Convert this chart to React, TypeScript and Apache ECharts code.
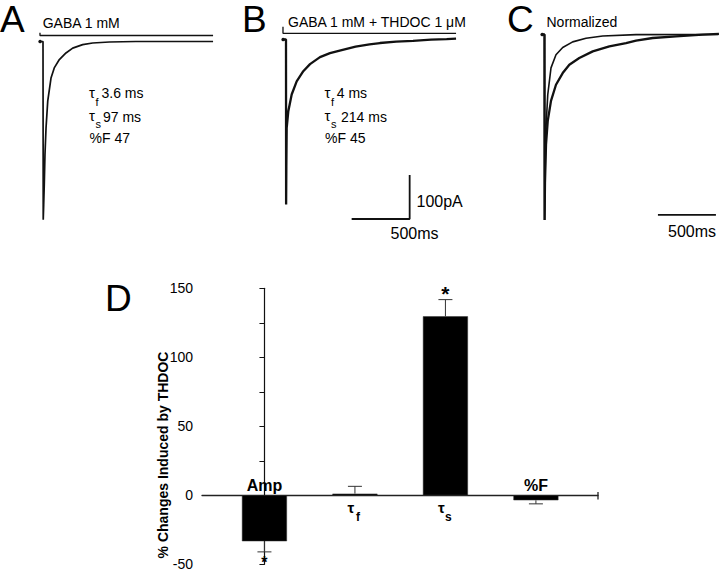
import React, { useEffect, useRef } from 'react';
import * as echarts from 'echarts';

// ---------- Panel A : GABA 1 mM (time in ms, current in pA) ----------
const TRACE_A_T = [-25, 0, 2, 6, 11, 17, 26, 41, 69, 97, 141, 198, 256, 342, 428, 572, 800, 1466];
const TRACE_A_I = [0, 0, -405, -371, -325, -257, -197, -135, -83, -60, -41, -26, -15, -7, -3.4, -1.1, 0, 0];
const APP_A_T = [-26, -26, 1466];
const APP_A_I = [20, 13.6, 13.6];

// ---------- Panel B : GABA 1 mM + THDOC 1 µM ----------
const TRACE_B_T = [-25, 0, 1, 3, 6, 20, 49, 92, 149, 207, 293, 379, 480, 600, 720, 810, 950, 1095, 1250, 1385, 1466];
const TRACE_B_I = [0, 0, -375, -290, -201, -163, -125, -95, -72, -56, -40, -31, -24, -16, -11, -8, -5, -3, -0.5, 0.8, 1.8];
const APP_B_T = [-26, -26, 1466];
const APP_B_I = [29, 14.1, 14.1];
const SCALE_MS = 500;
const SCALE_PA = 100;
const SCALE_B_START = [566, -408];

// ---------- Panel C : normalized ----------
const TRACE_C_FAST_T = [-20, 0, 1, 3, 7, 13, 28, 56, 99, 157, 243, 358, 502, 789, 1500];
const TRACE_C_FAST = [0, 0, -1, -0.9, -0.68, -0.5, -0.325, -0.18, -0.109, -0.07, -0.04, -0.02, -0.008, -0.001, 0];
const TRACE_C_SLOW_T = [-20, 0, 1, 4, 13, 28, 56, 99, 157, 214, 300, 416, 559, 703, 789, 933, 1134, 1364, 1504];
const TRACE_C_SLOW = [0, 0, -1, -0.8, -0.594, -0.466, -0.358, -0.271, -0.208, -0.163, -0.127, -0.091, -0.064, -0.046, -0.033, -0.019, -0.01, -0.001, 0.003];
const SCALE_C_START = [978, -0.973];

// ---------- Panel D : % changes induced by THDOC ----------
const D_CATEGORIES = ['Amp', 'τ', 'τ', '%F'];
const D_SUBSCRIPTS = ['', 'f', 's', ''];
const D_VALUES = [-33.3, 1.2, 129.7, -3.6];
const D_SEM = [7.7, 5.3, 12.1, 2.6];
const D_SIGNIFICANT = [true, false, true, false];
const D_TICKS = [-50, 150, 50];

const FONT = '"Liberation Sans", Arial, Helvetica, sans-serif';

const zip = (a: number[], b: number[]) =>
  a.map((v, i) =>
    i === 0
      ? { value: [v, b[i]], symbol: 'circle', symbolSize: 3.5, itemStyle: { color: '#111' } }
      : [v, b[i]]
  );
const pairs = (a: number[], b: number[]) => a.map((v, i) => [v, b[i]]);

function traceSeries(name: string, idx: number, data: any[], width: number, dot = false) {
  return {
    name,
    type: 'line',
    xAxisIndex: idx,
    yAxisIndex: idx,
    data,
    symbol: 'none',
    showSymbol: dot,
    silent: true,
    clip: false,
    lineStyle: { color: '#111', width },
  };
}

function txt(text: string, x: number, y: number, size: number, extra: any = {}) {
  return {
    type: 'text',
    x,
    y,
    silent: true,
    style: {
      text,
      fill: '#000',
      fontSize: size,
      fontFamily: FONT,
      align: 'left',
      verticalAlign: 'middle',
      ...extra,
    },
  };
}

export default function App() {
  const ref = useRef<HTMLDivElement>(null);

  useEffect(() => {
    if (!ref.current) return;
    const chart = echarts.init(ref.current, null, { renderer: 'svg' });

    const hiddenX = (min: number, max: number, gridIndex: number) => ({
      type: 'value', gridIndex, min, max, show: false, splitLine: { show: false },
    });
    const hiddenY = (min: number, max: number, gridIndex: number) => ({
      type: 'value', gridIndex, min, max, show: false, splitLine: { show: false },
    });

    const scaleB = [
      SCALE_B_START,
      [SCALE_B_START[0] + SCALE_MS, SCALE_B_START[1]],
      [SCALE_B_START[0] + SCALE_MS, SCALE_B_START[1] + SCALE_PA],
    ];
    const scaleC = [SCALE_C_START, [SCALE_C_START[0] + SCALE_MS, SCALE_C_START[1]]];

    const barData = D_VALUES.map((v, i) => [i, v]);
    const errData = D_VALUES.map((v, i) => [i, v, v + Math.sign(v) * D_SEM[i]]);

    const option: any = {
      animation: false,
      backgroundColor: '#fff',
      grid: [
        { left: 37.2, top: 32.7, width: 179.8, height: 193.6, outerBoundsMode: 'none' },
        { left: 280.2, top: 24.1, width: 179.8, height: 200.2, outerBoundsMode: 'none' },
        { left: 538.7, top: 25.2, width: 182.1, height: 204.05, outerBoundsMode: 'none' },
        { left: 202, top: 288.3, width: 396, height: 276, outerBoundsMode: 'none' },
      ],
      xAxis: [
        hiddenX(-50, 1500, 0),
        hiddenX(-50, 1500, 1),
        hiddenX(-50, 1520, 2),
        {
          type: 'value', gridIndex: 3, min: -0.69, max: 3.686,
          axisLine: { show: true, onZero: true, lineStyle: { color: '#222', width: 1.3 } },
          axisTick: { show: false }, axisLabel: { show: false }, splitLine: { show: false },
        },
      ],
      yAxis: [
        hiddenY(-420, 20, 0),
        hiddenY(-420, 35, 1),
        hiddenY(-1.05, 0.05, 2),
        {
          type: 'value', gridIndex: 3, min: D_TICKS[0], max: D_TICKS[1], interval: D_TICKS[2],
          axisLine: { show: true, lineStyle: { color: '#111', width: 1.2 } },
          axisTick: { show: true, length: 5, lineStyle: { color: '#111', width: 1 } },
          minorTick: { show: true, splitNumber: 2, length: 5, lineStyle: { color: '#111', width: 1 } },
          splitLine: { show: false },
          minorSplitLine: { show: false },
          axisLabel: { color: '#000', fontSize: 14, fontFamily: FONT, margin: 9 },
        },
      ],
      series: [
        traceSeries('A', 0, zip(TRACE_A_T, TRACE_A_I), 1.7, true),
        traceSeries('A application', 0, pairs(APP_A_T, APP_A_I), 1.3),
        traceSeries('B', 1, zip(TRACE_B_T, TRACE_B_I), 2.3, true),
        traceSeries('B application', 1, pairs(APP_B_T, APP_B_I), 1.3),
        traceSeries('B scale', 1, scaleB, 1.8),
        traceSeries('C fast', 2, zip(TRACE_C_FAST_T, TRACE_C_FAST), 1.6, true),
        traceSeries('C slow', 2, pairs(TRACE_C_SLOW_T, TRACE_C_SLOW), 2.3),
        traceSeries('C scale', 2, scaleC, 1.8),
        {
          name: 'D bars', type: 'bar', xAxisIndex: 3, yAxisIndex: 3,
          data: barData, barWidth: 45, silent: true,
          itemStyle: { color: '#000', borderColor: '#333', borderWidth: 0.5 },
        },
        {
          name: 'D error', type: 'custom', xAxisIndex: 3, yAxisIndex: 3, silent: true, clip: false,
          data: errData,
          renderItem: (_p: any, api: any) => {
            const i = api.value(0);
            const p0 = api.coord([i, api.value(1)]);
            const p1 = api.coord([i, api.value(2)]);
            const cap = 7;
            const st = { stroke: '#333', lineWidth: 1 };
            return {
              type: 'group',
              children: [
                { type: 'line', shape: { x1: p0[0], y1: p0[1], x2: p1[0], y2: p1[1] }, style: st },
                { type: 'line', shape: { x1: p1[0] - cap, y1: p1[1], x2: p1[0] + cap, y2: p1[1] }, style: st },
              ],
            };
          },
        },
        {
          name: 'D labels', type: 'custom', xAxisIndex: 3, yAxisIndex: 3, silent: true, clip: false,
          data: errData,
          renderItem: (p: any, api: any) => {
            const k = p.dataIndex;
            const i = api.value(0);
            const v = api.value(1);
            const zero = api.coord([i, 0]);
            const end = api.coord([i, api.value(2)]);
            const children: any[] = [];
            const bold = { fill: '#000', fontFamily: FONT, fontWeight: 'bold', verticalAlign: 'middle' };
            if (D_SUBSCRIPTS[k]) {
              const y = zero[1] + 12;
              children.push({ type: 'text', x: zero[0] - 4, y, style: { ...bold, text: D_CATEGORIES[k], fontSize: 15, align: 'center' } });
              children.push({ type: 'text', x: zero[0] + 3, y: y + 10, style: { ...bold, text: D_SUBSCRIPTS[k], fontSize: 12, align: 'center' } });
            } else {
              const y = v < 0 ? zero[1] - 10 : zero[1] + 12;
              children.push({ type: 'text', x: zero[0], y, style: { ...bold, text: D_CATEGORIES[k], fontSize: 16, align: 'center' } });
            }
            if (D_SIGNIFICANT[k]) {
              const y = v < 0 ? end[1] + 10.5 : end[1] - 6;
              children.push({
                type: 'text', x: end[0], y,
                style: { ...bold, text: '*', fontSize: v < 0 ? 16 : 21, align: 'center' },
              });
            }
            return { type: 'group', children };
          },
        },
      ],
      graphic: [
        txt('A', 0, 19.5, 37),
        txt('GABA 1 mM', 42.7, 23, 14),
        txt('B', 242, 19, 37),
        txt('GABA 1 mM + THDOC 1 μM', 288, 22, 14),
        txt('C', 507, 19.5, 37),
        txt('Normalized', 546.5, 22, 14),
        // Panel A kinetics
        txt('τ', 89, 92, 15),
        txt('f', 95.5, 102, 11),
        txt('3.6 ms', 101.5, 93.3, 14),
        txt('τ', 89, 115.5, 15),
        txt('s', 95.5, 123.5, 11),
        txt('97 ms', 103, 116.7, 14),
        txt('%F 47', 89.5, 138.3, 14),
        // Panel B kinetics
        txt('τ', 324.5, 92, 15),
        txt('f', 331, 102, 11),
        txt('4 ms', 336.7, 93.3, 14),
        txt('τ', 324.5, 115.5, 15),
        txt('s', 331, 123.5, 11),
        txt('214 ms', 341, 116.7, 14),
        txt('%F 45', 325, 138.3, 14),
        // scale bar labels
        txt('100pA', 416.5, 201.7, 16),
        txt('500ms', 414.5, 233, 16, { align: 'center' }),
        txt('500ms', 692, 231, 16, { align: 'center' }),
        // Panel D
        txt('D', 105, 298, 37),
        {
          type: 'text', x: 163, y: 455, rotation: Math.PI / 2, silent: true,
          style: {
            text: '% Changes Induced by THDOC', fill: '#000', fontSize: 14, fontWeight: 'bold',
            fontFamily: FONT, align: 'center', verticalAlign: 'middle',
          },
        },
        {
          type: 'line', silent: true,
          shape: { x1: 598, y1: 492, x2: 598, y2: 499.5 },
          style: { stroke: '#222', lineWidth: 1.3 },
        },
      ],
    };

    chart.setOption(option);
    return () => chart.dispose();
  }, []);

  return (
    <div
      ref={ref}
      style={{ position: 'absolute', left: 0, top: 0, width: 720, height: 571, background: '#fff' }}
    />
  );
}
